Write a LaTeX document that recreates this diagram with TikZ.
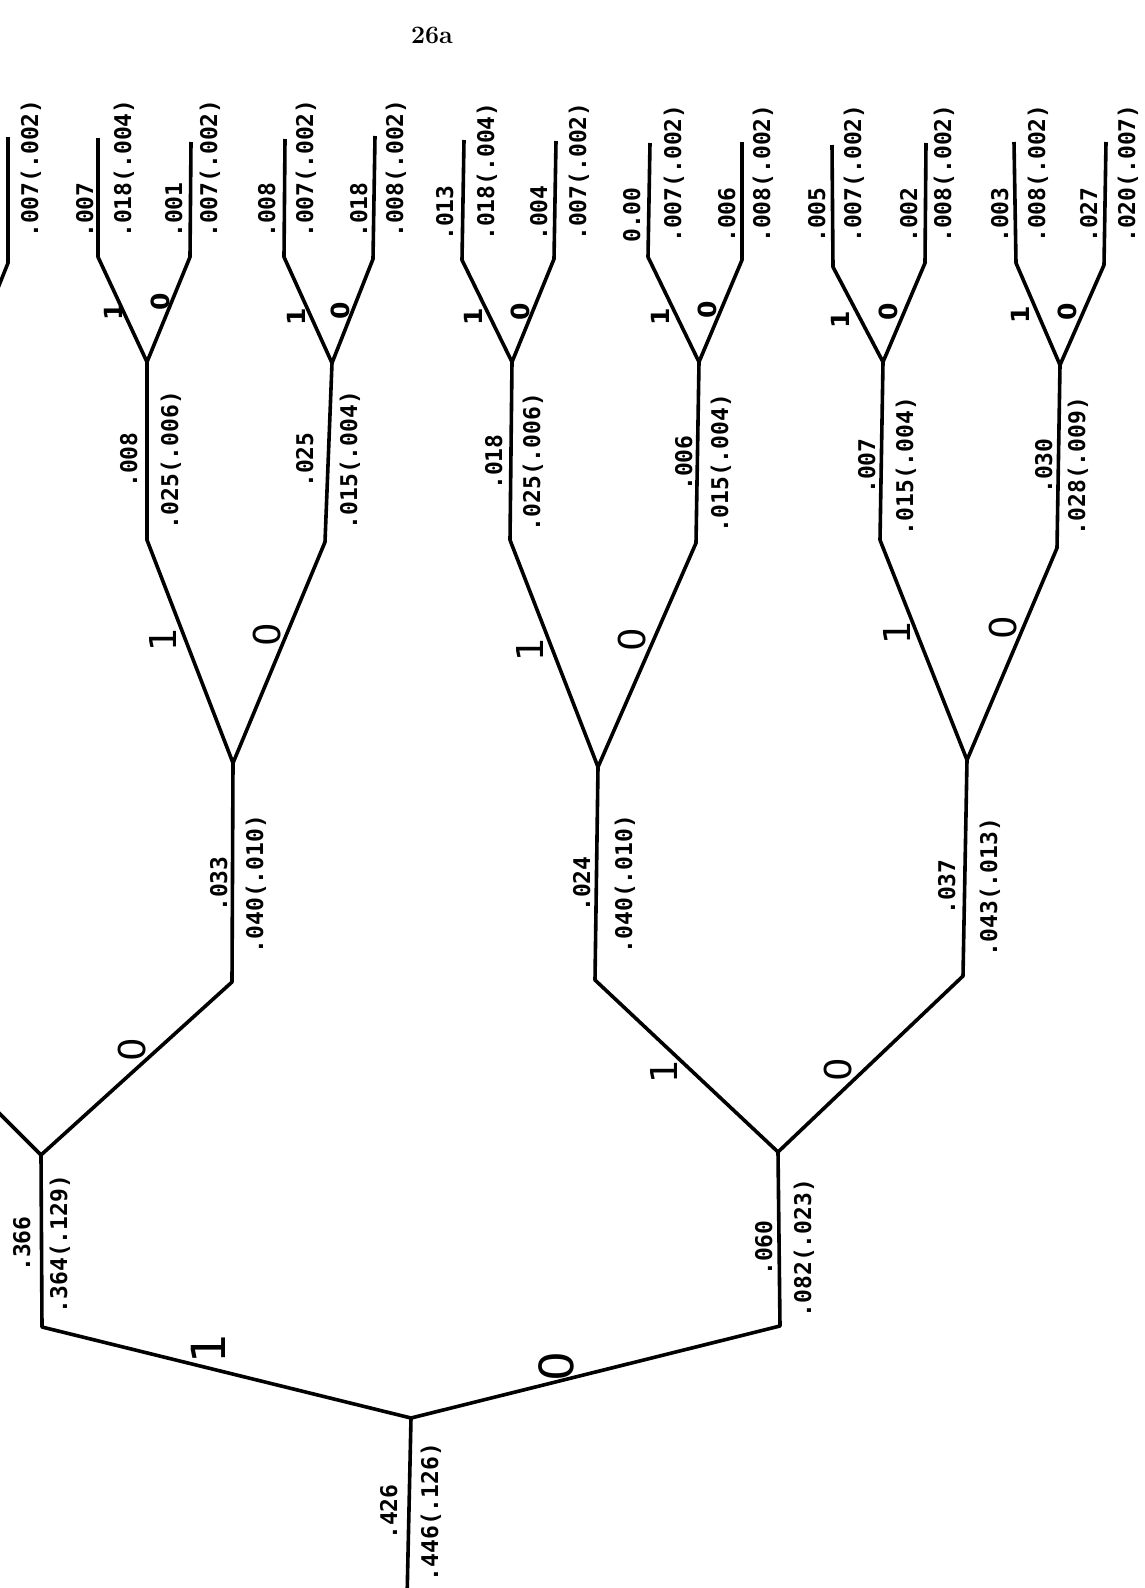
\documentclass[tikz,border=0pt]{standalone}
\usepackage{fontspec}
\newfontfamily\valfont{DejaVu Sans Mono}
\newfontfamily\bitfont{DejaVu Sans}

\begin{document}
\begin{tikzpicture}[x=1pt, y=-1pt,
    edge/.style={line width=3.6pt, line join=round},
    val/.style={rotate=90, inner sep=0pt, anchor=base, font={\valfont\bfseries\fontsize{23}{23}\selectfont}},
    leafval/.style={val, anchor=base west},
    bit/.style={rotate=90, inner sep=0pt, font={\bitfont\fontsize{37}{37}\selectfont}},
    bigbit/.style={bit, font={\bitfont\fontsize{47}{47}\selectfont}},
    smallbit/.style={bit, font={\bitfont\bfseries\fontsize{25}{25}\selectfont}}]

\useasboundingbox (0,0) rectangle (1145,1588);
\clip (0,0) rectangle (1145,1588);

% --- page number
\node[font={\fontsize{25}{25}\selectfont\bfseries}, inner sep=0pt] (page) at (432,35) {26a};

% --- forks (nX) and stem feet (nXs)
\coordinate (ns) at (407,1600);   \coordinate (n) at (411,1418);
\coordinate (n1s) at (42,1327);   \coordinate (n1) at (41,1155);
\coordinate (n0s) at (780,1326);  \coordinate (n0) at (778,1152);
\coordinate (n11s) at (-60,1054); % cut off by the page
\coordinate (n10s) at (232,982);  \coordinate (n10) at (233,763);
\coordinate (n01s) at (595,980);  \coordinate (n01) at (598,767);
\coordinate (n00s) at (963,976);  \coordinate (n00) at (967,760);
\coordinate (n101s) at (147,540); \coordinate (n101) at (147,362);
\coordinate (n100s) at (325,542); \coordinate (n100) at (332,363);
\coordinate (n011s) at (510,540); \coordinate (n011) at (512,362);
\coordinate (n010s) at (696,543); \coordinate (n010) at (699,362);
\coordinate (n001s) at (880,540); \coordinate (n001) at (883,362);
\coordinate (n000s) at (1057,548); \coordinate (n000) at (1060,365);
\coordinate (n110) at (-34,368);  % cut off by the page

% --- leaves: foot and tip
\coordinate (n1100s) at (8,263);   \coordinate (n1100) at (8,137);
\coordinate (n1011s) at (98,257);  \coordinate (n1011) at (98,138);
\coordinate (n1010s) at (190,257); \coordinate (n1010) at (191,142);
\coordinate (n1001s) at (284,257); \coordinate (n1001) at (285,139);
\coordinate (n1000s) at (373,259); \coordinate (n1000) at (375,136);
\coordinate (n0111s) at (462,260); \coordinate (n0111) at (464,140);
\coordinate (n0110s) at (554,259); \coordinate (n0110) at (556,141);
\coordinate (n0101s) at (648,257); \coordinate (n0101) at (650,143);
\coordinate (n0100s) at (742,260); \coordinate (n0100) at (742,142);
\coordinate (n0011s) at (833,267); \coordinate (n0011) at (832,145);
\coordinate (n0010s) at (925,263); \coordinate (n0010) at (926,143);
\coordinate (n0001s) at (1016,263); \coordinate (n0001) at (1014,142);
\coordinate (n0000s) at (1104,265); \coordinate (n0000) at (1106,142);

% --- branches
\draw[edge] (ns) -- (n);
\draw[edge] (n11s) -- (n1) -- (n1s) -- (n) -- (n0s) -- (n0);
\draw[edge] (n1) -- (n10s) -- (n10);
\draw[edge] (n01) -- (n01s) -- (n0) -- (n00s) -- (n00);
\draw[edge] (n101) -- (n101s) -- (n10) -- (n100s) -- (n100);
\draw[edge] (n011) -- (n011s) -- (n01) -- (n010s) -- (n010);
\draw[edge] (n001) -- (n001s) -- (n00) -- (n000s) -- (n000);
\draw[edge] (n110) -- (n1100s) -- (n1100);
\draw[edge] (n1011) -- (n1011s) -- (n101) -- (n1010s) -- (n1010);
\draw[edge] (n1001) -- (n1001s) -- (n100) -- (n1000s) -- (n1000);
\draw[edge] (n0111) -- (n0111s) -- (n011) -- (n0110s) -- (n0110);
\draw[edge] (n0101) -- (n0101s) -- (n010) -- (n0100s) -- (n0100);
\draw[edge] (n0011) -- (n0011s) -- (n001) -- (n0010s) -- (n0010);
\draw[edge] (n0001) -- (n0001s) -- (n000) -- (n0000s) -- (n0000);

% --- branch bits
\node[bigbit] (b-n-1) at (208,1349) {1};
\node[bigbit] (b-n-0) at (556,1367) {0};
\node[bit] (b-n1-0) at (132,1050) {0};
\node[bit] (b-n0-1) at (664,1072) {1};
\node[bit] (b-n0-0) at (838,1070) {0};
\node[bit] (b-n10-1) at (163,640) {1};
\node[bit] (b-n10-0) at (267,635) {0};
\node[bit] (b-n01-1) at (530,650) {1};
\node[bit] (b-n01-0) at (632,640) {0};
\node[bit] (b-n00-1) at (897,633) {1};
\node[bit] (b-n00-0) at (1003,628) {0};
\node[smallbit] (b-n101-1) at (113,312) {1};
\node[smallbit] (b-n101-0) at (160,302) {0};
\node[smallbit] (b-n100-1) at (296,317) {1};
\node[smallbit] (b-n100-0) at (340,311) {0};
\node[smallbit] (b-n011-1) at (473,317) {1};
\node[smallbit] (b-n011-0) at (520,312) {0};
\node[smallbit] (b-n010-1) at (660,317) {1};
\node[smallbit] (b-n010-0) at (707,310) {0};
\node[smallbit] (b-n001-1) at (840,320) {1};
\node[smallbit] (b-n001-0) at (888,312) {0};
\node[smallbit] (b-n000-1) at (1020,315) {1};
\node[smallbit] (b-n000-0) at (1067,312) {0};

% --- values on the stems
\node[val] (v-n-hi) at (397,1512) {.426};
\node[val] (v-n-lo) at (438,1512) {.446(.126)};
\node[val] (v-n1-hi) at (30,1244) {.366};
\node[val] (v-n1-lo) at (67,1244) {.364(.129)};
\node[val] (v-n0-hi) at (772,1248) {.060};
\node[val] (v-n0-lo) at (811,1248) {.082(.023)};
\node[val] (v-n10-hi) at (227,884) {.033};
\node[val] (v-n10-lo) at (263,884) {.040(.010)};
\node[val] (v-n01-hi) at (590,884) {.024};
\node[val] (v-n01-lo) at (632,884) {.040(.010)};
\node[val] (v-n00-hi) at (955,887) {.037};
\node[val] (v-n00-lo) at (997,887) {.043(.013)};
\node[val] (v-n101-hi) at (137,460) {.008};
\node[val] (v-n101-lo) at (178,460) {.025(.006)};
\node[val] (v-n100-hi) at (313,460) {.025};
\node[val] (v-n100-lo) at (357,460) {.015(.004)};
\node[val] (v-n011-hi) at (502,462) {.018};
\node[val] (v-n011-lo) at (540,462) {.025(.006)};
\node[val] (v-n010-hi) at (692,463) {.006};
\node[val] (v-n010-lo) at (728,463) {.015(.004)};
\node[val] (v-n001-hi) at (875,466) {.007};
\node[val] (v-n001-lo) at (913,466) {.015(.004)};
\node[val] (v-n000-hi) at (1052,466) {.030};
\node[val] (v-n000-lo) at (1085,466) {.028(.009)};

% --- values on the leaves
\node[leafval] (v-n1100-lo) at (38,238) {.007(.002)};
\node[leafval] (v-n1011-hi) at (93,238) {.007};
\node[leafval] (v-n1011-lo) at (131,238) {.018(.004)};
\node[leafval] (v-n1010-hi) at (182,238) {.001};
\node[leafval] (v-n1010-lo) at (217,238) {.007(.002)};
\node[leafval] (v-n1001-hi) at (275,238) {.008};
\node[leafval] (v-n1001-lo) at (313,238) {.007(.002)};
\node[leafval] (v-n1000-hi) at (367,238) {.018};
\node[leafval] (v-n1000-lo) at (403,238) {.008(.002)};
\node[leafval] (v-n0111-hi) at (453,241) {.013};
\node[leafval] (v-n0111-lo) at (494,241) {.018(.004)};
\node[leafval] (v-n0110-hi) at (547,241) {.004};
\node[leafval] (v-n0110-lo) at (586,241) {.007(.002)};
\node[leafval] (v-n0101-hi) at (640,243) {0.00};
\node[leafval] (v-n0101-lo) at (681,243) {.007(.002)};
\node[leafval] (v-n0100-hi) at (735,243) {.006};
\node[leafval] (v-n0100-lo) at (770,243) {.008(.002)};
\node[leafval] (v-n0011-hi) at (825,243) {.005};
\node[leafval] (v-n0011-lo) at (861,243) {.007(.002)};
\node[leafval] (v-n0010-hi) at (917,243) {.002};
\node[leafval] (v-n0010-lo) at (951,243) {.008(.002)};
\node[leafval] (v-n0001-hi) at (1008,243) {.003};
\node[leafval] (v-n0001-lo) at (1045,243) {.008(.002)};
\node[leafval] (v-n0000-hi) at (1097,243) {.027};
\node[leafval] (v-n0000-lo) at (1135,243) {.020(.007)};
\end{tikzpicture}
\end{document}
